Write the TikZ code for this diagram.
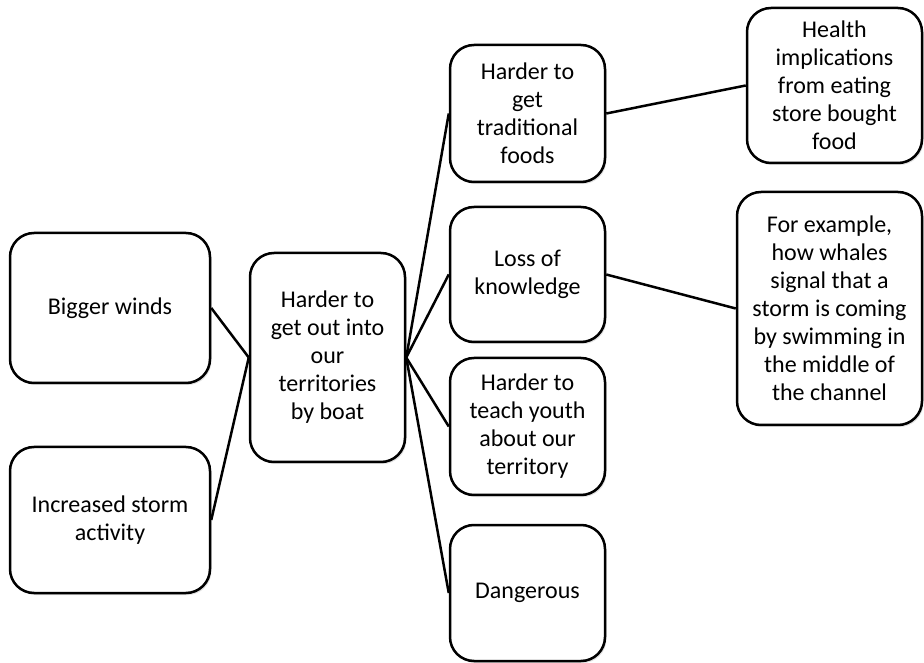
\documentclass[tikz,border=0pt]{standalone}
\usepackage{fontspec}
\setmainfont{Carlito}
\usetikzlibrary{shadows}
\begin{document}
\begin{tikzpicture}[x=1pt,y=1pt,
  box/.style={draw=black, line width=2.5pt, rounded corners=24pt, fill=white,
    align=center, inner sep=0pt,
    font=\fontsize{24}{28}\selectfont,
    drop shadow={shadow xshift=1.5pt, shadow yshift=-2pt, opacity=0.25, fill=gray}},
  link/.style={draw=black, line width=2.5pt}]
\useasboundingbox (0,0) rectangle (924,662);
\def\Y#1{662-#1}
\node[box, minimum width=200pt, minimum height=150pt] (winds) at (110,{\Y{308}}) {Bigger winds};
\node[box, minimum width=200pt, minimum height=146pt] (storm) at (110,{\Y{520}}) {Increased storm\\activity};
\node[box, minimum width=155pt, minimum height=209pt] (center) at (327.5,{\Y{357.5}}) {Harder to\\get out into\\our\\territories\\by boat};
\node[box, minimum width=155pt, minimum height=137pt] (foods) at (527.5,{\Y{113.5}}) {Harder to\\get\\traditional\\foods};
\node[box, minimum width=155pt, minimum height=135pt] (loss) at (527.5,{\Y{274.5}}) {Loss of\\knowledge};
\node[box, minimum width=155pt, minimum height=137pt] (teach) at (527.5,{\Y{426.5}}) {Harder to\\teach youth\\about our\\territory};
\node[box, minimum width=155pt, minimum height=136pt] (danger) at (527.5,{\Y{593}}) {Dangerous};
\node[box, minimum width=175pt, minimum height=155pt] (health) at (834.5,{\Y{85.5}}) {Health\\implications\\from eating\\store bought\\food};
\node[box, minimum width=185pt, minimum height=233pt] (example) at (829.5,{\Y{308.5}}) {For example,\\how whales\\signal that a\\storm is coming\\by swimming in\\the middle of\\the channel};
\draw[link] (winds.east) -- (center.west);
\draw[link] (storm.east) -- (center.west);
\draw[link] (center.east) -- (foods.west);
\draw[link] (center.east) -- (loss.west);
\draw[link] (center.east) -- (teach.west);
\draw[link] (center.east) -- (danger.west);
\draw[link] (foods.east) -- (health.west);
\draw[link] (loss.east) -- (example.west);
\end{tikzpicture}
\end{document}
